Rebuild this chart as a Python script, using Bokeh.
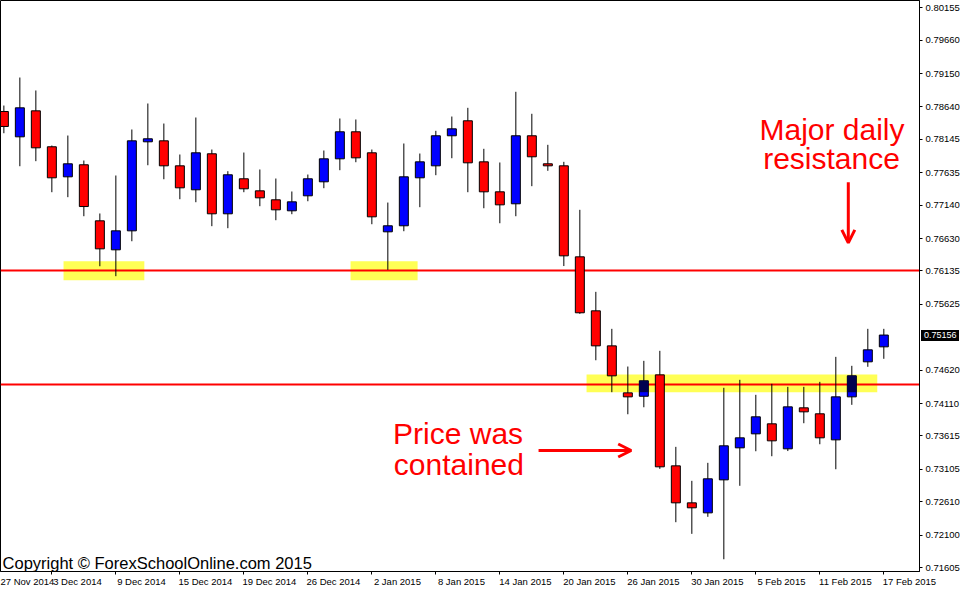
from bokeh.plotting import figure
from bokeh.layouts import column
from bokeh.models import Range1d, FixedTicker, Label, Arrow, OpenHead, Div
from bokeh.embed import file_html
from bokeh.resources import INLINE

# ---------------- data ----------------
dates = ["28 Nov 2014", "1 Dec 2014", "2 Dec 2014", "3 Dec 2014", "4 Dec 2014", "5 Dec 2014",
         "8 Dec 2014", "9 Dec 2014", "10 Dec 2014", "11 Dec 2014", "12 Dec 2014",
         "15 Dec 2014", "16 Dec 2014", "17 Dec 2014", "18 Dec 2014", "19 Dec 2014",
         "22 Dec 2014", "23 Dec 2014", "24 Dec 2014", "26 Dec 2014",
         "29 Dec 2014", "30 Dec 2014", "31 Dec 2014", "2 Jan 2015",
         "5 Jan 2015", "6 Jan 2015", "7 Jan 2015", "8 Jan 2015", "9 Jan 2015",
         "12 Jan 2015", "13 Jan 2015", "14 Jan 2015", "15 Jan 2015", "16 Jan 2015",
         "19 Jan 2015", "20 Jan 2015", "21 Jan 2015", "22 Jan 2015", "23 Jan 2015",
         "26 Jan 2015", "27 Jan 2015", "28 Jan 2015", "29 Jan 2015", "30 Jan 2015",
         "2 Feb 2015", "3 Feb 2015", "4 Feb 2015", "5 Feb 2015", "6 Feb 2015",
         "9 Feb 2015", "10 Feb 2015", "11 Feb 2015", "12 Feb 2015", "13 Feb 2015",
         "16 Feb 2015", "17 Feb 2015"]

opens = [0.78571, 0.78184, 0.78581, 0.78032, 0.77573, 0.77757, 0.76901, 0.76458, 0.76748, 0.78108,
         0.78123, 0.77741, 0.77375, 0.77925, 0.77008, 0.77543, 0.77359, 0.77222, 0.77054, 0.77283,
         0.77497, 0.77848, 0.78261, 0.77940, 0.76733, 0.76825, 0.77558, 0.77741, 0.78200, 0.78429,
         0.77802, 0.77344, 0.77161, 0.78200, 0.77772, 0.77741, 0.76351, 0.75526, 0.74991, 0.74273,
         0.74221, 0.74548, 0.73158, 0.72593, 0.72440, 0.72944, 0.73433, 0.73647, 0.73800, 0.73418,
         0.74044, 0.73953, 0.73555, 0.74212, 0.74747, 0.74976]
highs = [0.78662, 0.79090, 0.78892, 0.78051, 0.78204, 0.77822, 0.77013, 0.77593, 0.78296, 0.78693,
         0.78387, 0.77914, 0.78479, 0.77990, 0.77659, 0.77944, 0.77685, 0.77547, 0.77349, 0.77608,
         0.77975, 0.78464, 0.78449, 0.77990, 0.77180, 0.78082, 0.77929, 0.78276, 0.78494, 0.78627,
         0.78001, 0.77792, 0.78872, 0.78536, 0.78062, 0.77802, 0.77069, 0.75816, 0.75251, 0.74675,
         0.74762, 0.74915, 0.73448, 0.72929, 0.73204, 0.74350, 0.74472, 0.74243, 0.74411, 0.74365,
         0.74365, 0.74441, 0.74823, 0.74686, 0.75251, 0.75251]
lows = [0.78239, 0.77735, 0.77812, 0.77338, 0.77262, 0.76971, 0.76207, 0.76055, 0.76589, 0.77750,
        0.77536, 0.77231, 0.77185, 0.76819, 0.76788, 0.77338, 0.77124, 0.76910, 0.77002, 0.77200,
        0.77399, 0.77674, 0.77796, 0.76849, 0.76152, 0.76742, 0.77109, 0.77598, 0.77857, 0.77338,
        0.77093, 0.76864, 0.76971, 0.77430, 0.77665, 0.76210, 0.75480, 0.74771, 0.74283, 0.73946,
        0.74053, 0.73112, 0.72297, 0.72119, 0.72379, 0.71731, 0.72853, 0.73381, 0.73305, 0.73384,
        0.73809, 0.73488, 0.73106, 0.74090, 0.74671, 0.74793]
closes = [0.78342, 0.78627, 0.78016, 0.77558, 0.77772, 0.77119, 0.76473, 0.76748, 0.78123, 0.78154,
          0.77741, 0.77405, 0.77940, 0.77008, 0.77604, 0.77390, 0.77252, 0.77069, 0.77191, 0.77543,
          0.77848, 0.78261, 0.77863, 0.76962, 0.76825, 0.77573, 0.77802, 0.78200, 0.78306, 0.77787,
          0.77344, 0.77145, 0.78200, 0.77879, 0.77741, 0.76366, 0.75496, 0.74991, 0.74533, 0.74212,
          0.74457, 0.73143, 0.72593, 0.72517, 0.72960, 0.73464, 0.73586, 0.73907, 0.73540, 0.74059,
          0.73983, 0.73586, 0.74212, 0.74533, 0.74930, 0.75156]

date_tick_labels = ["27 Nov 2014", "3 Dec 2014", "9 Dec 2014", "15 Dec 2014", "19 Dec 2014",
                    "26 Dec 2014", "2 Jan 2015", "8 Jan 2015", "14 Jan 2015", "20 Jan 2015",
                    "26 Jan 2015", "30 Jan 2015", "5 Feb 2015", "11 Feb 2015", "17 Feb 2015"]

price_ticks = [0.80155, 0.79660, 0.79150, 0.78640, 0.78145, 0.77635, 0.77140, 0.76630, 0.76135,
               0.75625, 0.74620, 0.74110, 0.73615, 0.73105, 0.72610, 0.72100, 0.71605]

level_prices = [0.76145, 0.74405]

# highlighted zones (start date index, end date index, upper price, lower price)
zone_left = [3.73, 21.67, 36.42]
zone_right = [8.78, 25.86, 54.59]
zone_top = [0.76285, 0.76285, 0.74553]
zone_bottom = [0.75993, 0.75993, 0.74283]

# ---------------- figure ----------------
FONT = "Liberation Sans"
Y_TOP, Y_BOT = 0.802665, 0.71544
fig = figure(width=963, height=589,
             x_range=Range1d(-0.21, 57.23), y_range=Range1d(Y_BOT, Y_TOP),
             y_axis_location="right", toolbar_location=None, output_backend="svg",
             min_border_left=0, min_border_top=0, min_border_right=44, min_border_bottom=16)
fig.xgrid.visible = False
fig.ygrid.visible = False
fig.background_fill_color = "white"
fig.border_fill_color = "white"
fig.outline_line_color = "black"
fig.outline_line_width = 1

idx = list(range(len(dates)))

# zones
fig.quad(left=zone_left, right=zone_right, top=zone_top, bottom=zone_bottom,
         fill_color="#FFFF55", line_color=None)

# horizontal levels
fig.hspan(y=level_prices, line_color="#FF0000", line_width=2)

# wicks
fig.segment(x0=idx, y0=lows, x1=idx, y1=highs, line_color="black", line_width=1)

# bodies
up = [i for i in idx if closes[i] >= opens[i]]
dn = [i for i in idx if closes[i] < opens[i]]
BW = 0.5625
fig.vbar(x=up, width=BW, top=[closes[i] for i in up], bottom=[opens[i] for i in up],
         fill_color="#0000FF", line_color="black", line_width=1)
fig.vbar(x=dn, width=BW, top=[opens[i] for i in dn], bottom=[closes[i] for i in dn],
         fill_color="#FF0000", line_color="black", line_width=1)

# bullish bodies overlapping the highlight zones appear dark (MT4 blending)
ov_x, ov_top, ov_bot = [], [], []
for i in up:
    for zl, zr, zt, zb in zip(zone_left, zone_right, zone_top, zone_bottom):
        if zl <= i <= zr:
            t = min(closes[i], zt)
            b = max(opens[i], zb)
            if t > b:
                ov_x.append(i); ov_top.append(t); ov_bot.append(b)
if ov_x:
    fig.vbar(x=ov_x, width=BW, top=ov_top, bottom=ov_bot,
             fill_color="#00004F", line_color=None)

# ---------------- axes ----------------
def tick_index(lbl):
    if lbl in dates:
        return dates.index(lbl)
    return -1  # the day before the first visible candle

tick_pos = [tick_index(l) for l in date_tick_labels]
LABEL_SHIFT = 1.6
label_pos = [t + LABEL_SHIFT for t in tick_pos]

xa = fig.xaxis[0]
xa.ticker = FixedTicker(ticks=label_pos, minor_ticks=tick_pos)
xa.major_label_overrides = {lp: l for lp, l in zip(label_pos, date_tick_labels)}
xa.major_tick_line_color = None
xa.major_tick_in = 0
xa.major_tick_out = 0
xa.minor_tick_line_color = "black"
xa.minor_tick_in = 0
xa.minor_tick_out = 3
xa.axis_line_color = "black"
xa.major_label_standoff = 1
xa.major_label_text_font = FONT
xa.major_label_text_font_size = "9.5px"
xa.major_label_text_color = "black"

ya = fig.yaxis[0]
ya.ticker = FixedTicker(ticks=price_ticks)
ya.major_label_overrides = {v: f"{v:.5f}" for v in price_ticks}
ya.major_tick_in = 0
ya.major_tick_out = 3
ya.minor_tick_line_color = None
ya.minor_tick_out = 0
ya.axis_line_color = "black"
ya.major_label_standoff = 3
ya.major_label_text_font = FONT
ya.major_label_text_font_size = "9.5px"
ya.major_label_text_color = "black"

# ---------------- annotations ----------------
RED = "#FF0000"
for txt, xx, yy in [("Major daily", 51.76, 0.78291), ("resistance", 51.73, 0.77848),
                    ("Price was", 28.39, 0.73647), ("contained", 28.44, 0.73178)]:
    fig.add_layout(Label(x=xx, y=yy, text=txt, text_color=RED, text_font=FONT,
                         text_font_size="30px", text_align="center", text_baseline="alphabetic"))

fig.add_layout(Arrow(x_start=52.78, y_start=0.7749, x_end=52.78, y_end=0.76565,
                     line_color=RED, line_width=3,
                     end=OpenHead(line_color=RED, line_width=3, size=13)))
fig.add_layout(Arrow(x_start=33.42, y_start=0.73392, x_end=39.21, y_end=0.73392,
                     line_color=RED, line_width=3,
                     end=OpenHead(line_color=RED, line_width=3, size=13)))

fig.add_layout(Label(x=-0.08, y=0.71681, text="Copyright \u00a9 ForexSchoolOnline.com 2015",
                     text_color="black", text_font=FONT, text_font_size="16.5px",
                     text_align="left", text_baseline="alphabetic"))

# current price tag on the price scale (black box, white text), overlaid on the axis area
FRAME_H = 571
tag_center = (Y_TOP - closes[-1]) / (Y_TOP - Y_BOT) * FRAME_H
tag_top = int(round(tag_center - 5.5)) - 3
price_tag = Div(text=(f'<div style="background:#000;color:#fff;font-family:\'Liberation Sans\';'
                      f'font-size:9px;line-height:11px;height:11px;width:38px;padding-left:3px;'
                      f'margin:0;">{closes[-1]:.5f}</div>'),
                width=41, height=11, margin=(tag_top - 589, 0, 0, 921))

p = column(fig, price_tag, spacing=0)

open("out.html", "w").write(file_html(p, INLINE))
